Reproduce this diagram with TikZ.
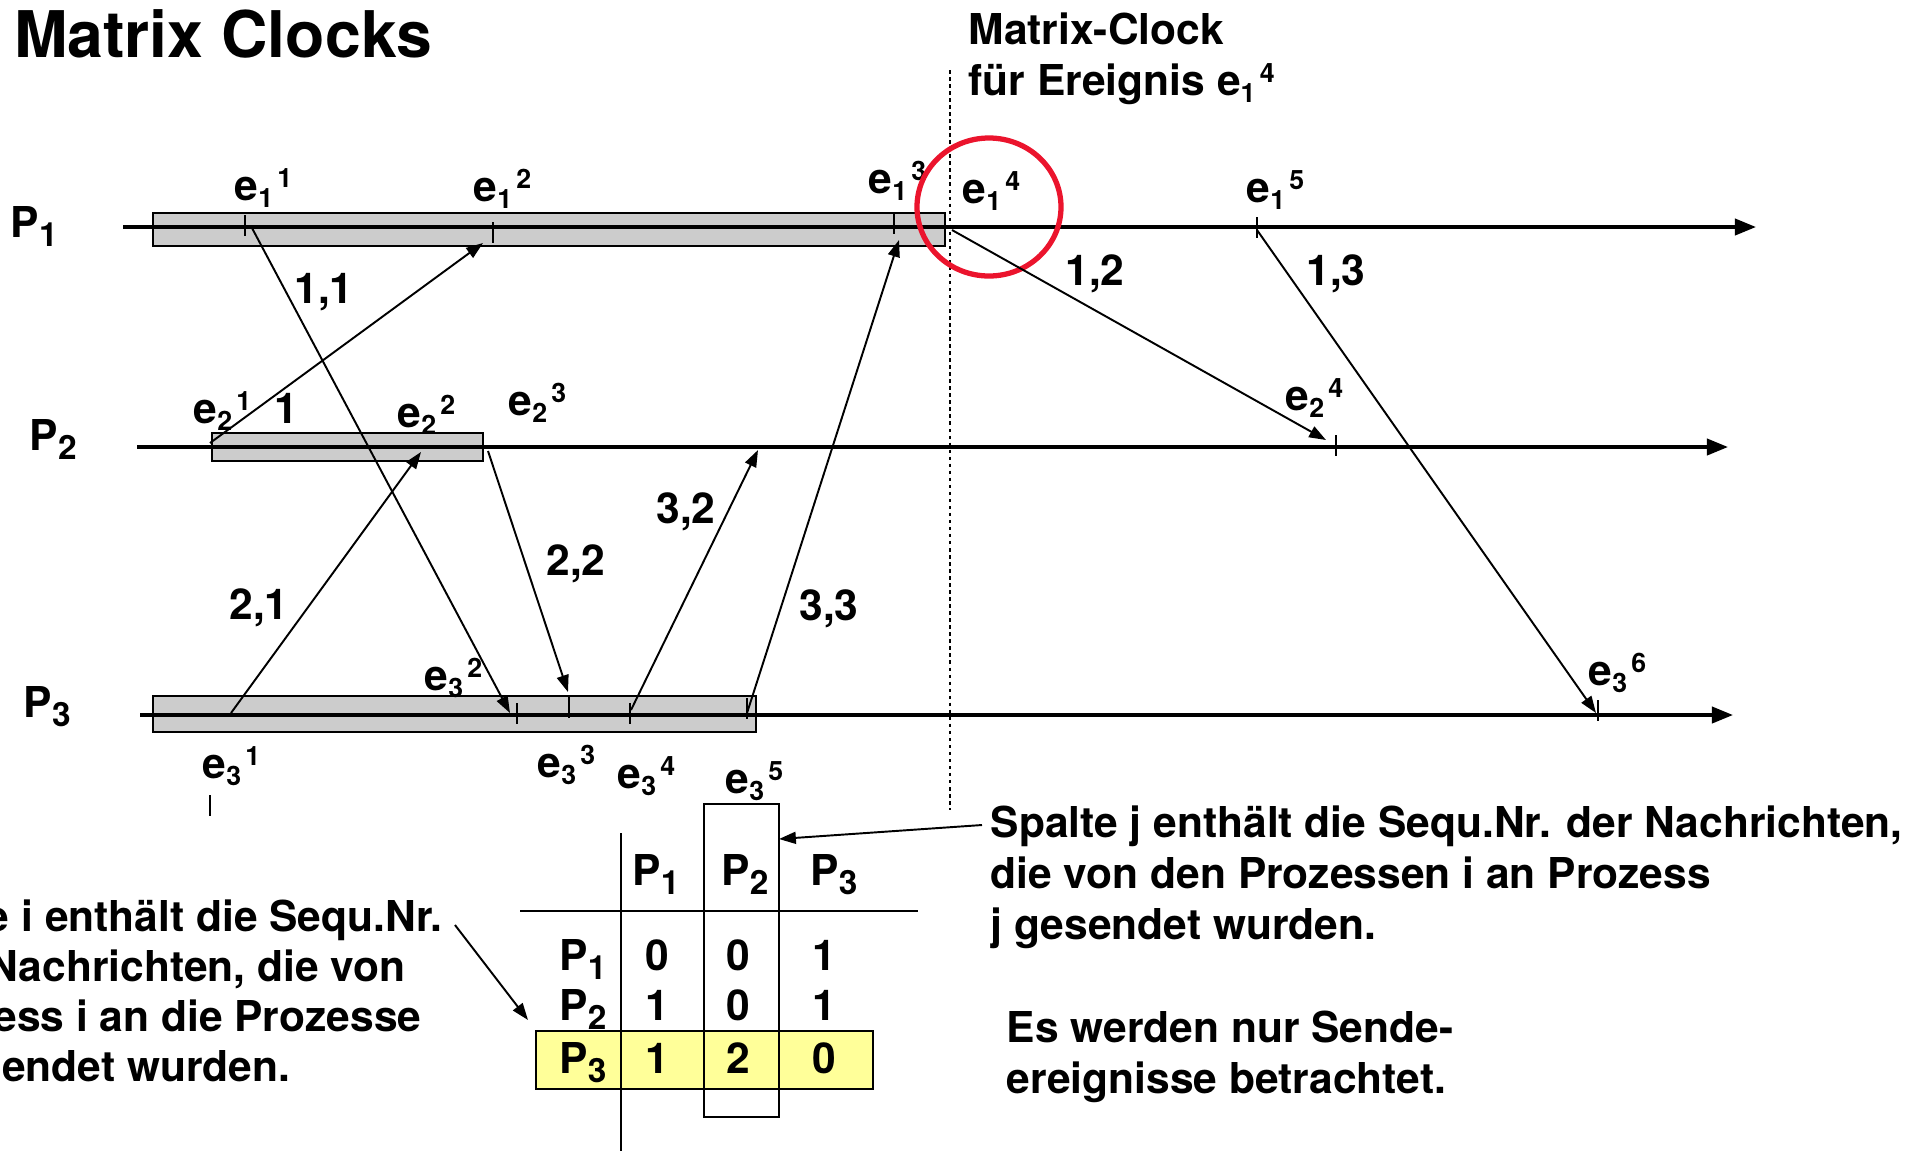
\documentclass[tikz,border=0pt]{standalone}
\usepackage{fontspec}
\setmainfont{TeX Gyre Heros}
\usetikzlibrary{arrows.meta}
\definecolor{BarGray}{RGB}{204,204,204}
\definecolor{MarkYellow}{RGB}{255,255,153}
\definecolor{CircleRed}{RGB}{235,20,45}
\newcommand{\bodyfont}{\fontsize{12.1}{14.4}\selectfont\bfseries}
\newcommand{\evt}[2]{e\raisebox{-2pt}{\fontsize{7.6}{7.6}\selectfont#1}\hspace{1.2pt}\raisebox{3.6pt}{\fontsize{7.6}{7.6}\selectfont#2}}
\newcommand{\proc}[1]{P\raisebox{-2.8pt}{\fontsize{9.5}{9.5}\selectfont#1}}
\tikzset{
  procline/.style={-{Triangle[length=6pt,width=4.6pt]},line width=1pt},
  msgarrow/.style={-{Triangle[length=4.8pt,width=3.4pt]},line width=0.55pt},
  activebar/.style={draw=black,fill=BarGray,line width=0.8pt},
  evtick/.style={line width=0.6pt},
  evlabel/.style={anchor=base west,inner sep=0pt,font=\bodyfont},
  numlabel/.style={inner sep=0pt,font=\bodyfont},
  cell/.style={anchor=base,inner sep=0pt,font=\bodyfont},
  note/.style={anchor=base west,inner sep=0pt,align=left,font=\bodyfont},
  cutnote/.style={anchor=base east,inner sep=0pt,font=\bodyfont},
}
\begin{document}
\begin{tikzpicture}
  \useasboundingbox (0,0) rectangle (19.11,-11.51);
  \node[anchor=base west,inner sep=0pt,font=\fontsize{18.3}{20}\selectfont\bfseries] (title)
    at (0.134,-0.57) {Matrix Clocks};
  % base of a multi-line note is its last line
  \node[note] (clocknote) at (9.68,-0.95) {Matrix-Clock\\für Ereignis \evt{1}{4}};
  \draw[dash pattern=on 1pt off 1pt,line width=0.6pt] (9.50,-0.70) -- (9.50,-8.10);

  % process bars and time lines
  \draw[activebar] (1.53,-2.13) rectangle (9.45,-2.46);
  \draw[activebar] (2.12,-4.33) rectangle (4.83,-4.61);
  \draw[activebar] (1.53,-6.96) rectangle (7.56,-7.32);
  \node[evlabel] (plabel1) at (0.10,-2.37) {\proc{1}};
  \node[evlabel] (plabel2) at (0.29,-4.50) {\proc{2}};
  \node[evlabel] (plabel3) at (0.23,-7.17) {\proc{3}};
  \coordinate (start1) at (1.23,-2.27);
  \coordinate (end1) at (17.56,-2.27);
  \coordinate (start2) at (1.37,-4.47);
  \coordinate (end2) at (17.28,-4.47);
  \coordinate (start3) at (1.40,-7.15);
  \coordinate (end3) at (17.33,-7.15);
  \draw[procline] (start1) -- (end1);
  \draw[procline] (start2) -- (end2);
  \draw[procline] (start3) -- (end3);
  \foreach \x/\y in {2.45/-2.15,4.93/-2.22,8.94/-2.13,12.57/-2.17,13.36/-4.35,
                     5.17/-7.03,5.69/-6.97,6.30/-7.03,7.47/-6.98,15.98/-7.00,2.10/-7.95}
    \draw[evtick] (\x,\y) -- ++(0,-0.21);

  % event labels
  \node[evlabel] (ev11) at (2.34,-2.00) {\evt{1}{1}};
  \node[evlabel] (ev12) at (4.73,-2.01) {\evt{1}{2}};
  \node[evlabel] (ev13) at (8.68,-1.93) {\evt{1}{3}};
  \node[evlabel] (ev14) at (9.62,-2.03) {\evt{1}{4}};
  \node[evlabel] (ev15) at (12.46,-2.02) {\evt{1}{5}};
  \node[evlabel] (ev21) at (1.93,-4.23) {\evt{2}{1}};
  \node[evlabel] (ev22) at (3.97,-4.27) {\evt{2}{2}};
  \node[evlabel] (ev23) at (5.08,-4.15) {\evt{2}{3}};
  \node[evlabel] (ev24) at (12.85,-4.10) {\evt{2}{4}};
  \node[evlabel] (ev31) at (2.02,-7.78) {\evt{3}{1}};
  \node[evlabel] (ev32) at (4.24,-6.90) {\evt{3}{2}};
  \node[evlabel] (ev33) at (5.37,-7.77) {\evt{3}{3}};
  \node[evlabel] (ev34) at (6.17,-7.88) {\evt{3}{4}};
  \node[evlabel] (ev35) at (7.25,-7.93) {\evt{3}{5}};
  \node[evlabel] (ev36) at (15.88,-6.85) {\evt{3}{6}};
  \draw[CircleRed,line width=1.5pt] (9.89,-2.07) ellipse [x radius=0.72,y radius=0.69];

  % messages
  \coordinate (snd11) at (2.52,-2.28);  \coordinate (rcv11) at (5.10,-7.13);
  \coordinate (snd1)  at (2.10,-4.43);  \coordinate (rcv1)  at (4.83,-2.43);
  \coordinate (snd21) at (2.31,-7.13);  \coordinate (rcv21) at (4.21,-4.52);
  \coordinate (snd22) at (4.88,-4.51);  \coordinate (rcv22) at (5.68,-6.92);
  \coordinate (snd32) at (6.31,-7.10);  \coordinate (rcv32) at (7.58,-4.50);
  \coordinate (snd33) at (7.47,-7.13);  \coordinate (rcv33) at (8.99,-2.40);
  \coordinate (snd12) at (9.52,-2.30);  \coordinate (rcv12) at (13.26,-4.40);
  \coordinate (snd13) at (12.57,-2.30); \coordinate (rcv13) at (15.96,-7.13);
  \draw[msgarrow] (snd11) -- (rcv11);
  \draw[msgarrow] (snd1) -- (rcv1);
  \draw[msgarrow] (snd21) -- (rcv21);
  \draw[msgarrow] (snd22) -- (rcv22);
  \draw[msgarrow] (snd32) -- (rcv32);
  \draw[msgarrow] (snd33) -- (rcv33);
  \draw[msgarrow] (snd12) -- (rcv12);
  \draw[msgarrow] (snd13) -- (rcv13);
  \node[numlabel] (num11) at (3.24,-2.92) {1,1};
  \node[numlabel] (num1)  at (2.86,-4.08) {1};
  \node[numlabel] (num21) at (2.59,-6.08) {2,1};
  \node[numlabel] (num22) at (5.76,-5.64) {2,2};
  \node[numlabel] (num32) at (6.86,-5.12) {3,2};
  \node[numlabel] (num33) at (8.29,-6.09) {3,3};
  \node[numlabel] (num12) at (10.95,-2.74) {1,2};
  \node[numlabel] (num13) at (13.36,-2.74) {1,3};

  % matrix of e_3^5
  \node[draw,fill=MarkYellow,line width=0.8pt,inner sep=0pt,minimum width=3.37cm,
        minimum height=0.58cm] (rowbox) at (7.045,-10.60) {};
  \node[draw,line width=0.7pt,inner sep=0pt,minimum width=0.75cm,
        minimum height=3.13cm] (colbox) at (7.415,-9.605) {};
  \draw[line width=0.7pt] (6.21,-8.33) -- (6.21,-11.51);
  \draw[line width=0.7pt] (5.20,-9.11) -- (9.18,-9.11);
  \node[cell] (head1) at (6.56,-8.85) {\proc{1}};
  \node[cell] (head2) at (7.45,-8.85) {\proc{2}};
  \node[cell] (head3) at (8.34,-8.85) {\proc{3}};
  \node[cell] (row1) at (5.83,-9.70) {\proc{1}};
  \node[cell] (row2) at (5.83,-10.20) {\proc{2}};
  \node[cell] (row3) at (5.83,-10.73) {\proc{3}};
  \node[cell] (c11) at (6.57,-9.70) {0};
  \node[cell] (c12) at (7.38,-9.70) {0};
  \node[cell] (c13) at (8.24,-9.70) {1};
  \node[cell] (c21) at (6.57,-10.20) {1};
  \node[cell] (c22) at (7.38,-10.20) {0};
  \node[cell] (c23) at (8.24,-10.20) {1};
  \node[cell] (c31) at (6.57,-10.73) {1};
  \node[cell] (c32) at (7.38,-10.73) {2};
  \node[cell] (c33) at (8.24,-10.73) {0};

  % explanations
  \node[cutnote] (rownote1) at (4.43,-9.31) {e i enthält die Sequ.Nr.};
  \node[cutnote] (rownote2) at (4.06,-9.81) {Nachrichten, die von};
  \node[cutnote] (rownote3) at (4.22,-10.31) {ess i an die Prozesse};
  \node[cutnote] (rownote4) at (2.91,-10.81) {endet wurden.};
  \coordinate (rowfrom) at (4.55,-9.25);
  \coordinate (rowto) at (5.28,-10.20);
  \draw[msgarrow] (rowfrom) -- (rowto);
  \node[note] (colnote) at (9.90,-9.39)
    {Spalte j enthält die Sequ.Nr. der Nachrichten,\\die von den Prozessen i an Prozess\\j gesendet wurden.};
  \coordinate (colfrom) at (9.82,-8.25);
  \coordinate (colto) at (7.79,-8.39);
  \draw[msgarrow] (colfrom) -- (colto);
  \node[note] (sendnote) at (10.06,-10.93) {Es werden nur Sende-\\ereignisse betrachtet.};
\end{tikzpicture}
\end{document}
